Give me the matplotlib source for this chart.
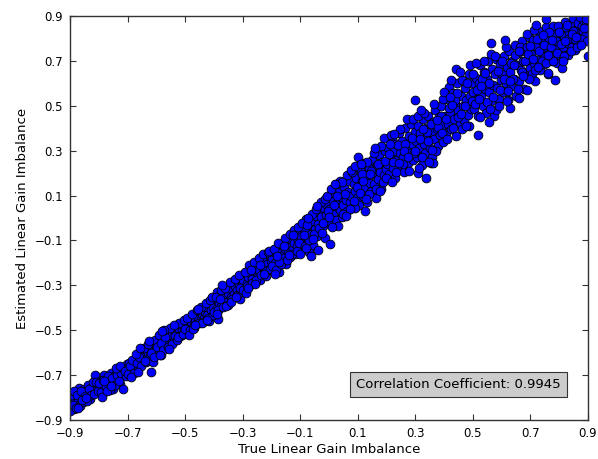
import matplotlib
matplotlib.use("Agg")
import matplotlib.pyplot as plt

# true vs estimated linear gain imbalance
true_gain = [
    -0.899, -0.897, -0.895, -0.892, -0.888, -0.885, -0.881, -0.877, -0.873, -0.869, -0.864, -0.860,
    -0.856, -0.851, -0.846, -0.842, -0.838, -0.833, -0.829, -0.824, -0.819, -0.813, -0.810, -0.805,
    -0.798, -0.794, -0.790, -0.786, -0.782, -0.778, -0.774, -0.770, -0.766, -0.762, -0.758, -0.754,
    -0.750, -0.746, -0.742, -0.738, -0.734, -0.730, -0.726, -0.722, -0.718, -0.714, -0.710, -0.706, -0.702,
    -0.698, -0.694, -0.690, -0.686, -0.682, -0.678, -0.674, -0.670, -0.666, -0.662, -0.658, -0.654,
    -0.650, -0.646, -0.642, -0.638, -0.634, -0.630, -0.626, -0.622, -0.618, -0.614, -0.610, -0.606, -0.602,
    -0.598, -0.594, -0.590, -0.586, -0.582, -0.578, -0.574, -0.570, -0.566, -0.562, -0.558, -0.554,
    -0.550, -0.546, -0.542, -0.538, -0.534, -0.530, -0.526, -0.522, -0.518, -0.514, -0.510, -0.506, -0.502,
    -0.498, -0.494, -0.490, -0.486, -0.482, -0.478, -0.474, -0.470, -0.466, -0.462, -0.458, -0.454,
    -0.450, -0.446, -0.442, -0.438, -0.434, -0.430, -0.426, -0.422, -0.418, -0.414, -0.410, -0.406, -0.402,
    -0.398, -0.394, -0.390, -0.386, -0.382, -0.378, -0.374, -0.370, -0.366, -0.362, -0.358, -0.354,
    -0.350, -0.346, -0.342, -0.338, -0.334, -0.330, -0.326, -0.322, -0.318, -0.314, -0.310, -0.306, -0.302,
    -0.298, -0.294, -0.290, -0.286, -0.282, -0.278, -0.274, -0.270, -0.266, -0.262, -0.258, -0.254,
    -0.250, -0.246, -0.242, -0.238, -0.234, -0.230, -0.226, -0.222, -0.218, -0.214, -0.210, -0.206, -0.202,
    -0.198, -0.194, -0.190, -0.186, -0.182, -0.178, -0.174, -0.170, -0.166, -0.162, -0.158, -0.154,
    -0.150, -0.146, -0.142, -0.138, -0.134, -0.130, -0.126, -0.122, -0.118, -0.114, -0.110, -0.106, -0.102,
    -0.098, -0.094, -0.090, -0.086, -0.082, -0.078, -0.074, -0.070, -0.066, -0.062, -0.058, -0.054,
    -0.050, -0.046, -0.042, -0.038, -0.034, -0.030, -0.026, -0.022, -0.018, -0.014, -0.010, -0.006, -0.002,
    0.002, 0.006, 0.010, 0.014, 0.018, 0.022, 0.026, 0.030, 0.034, 0.038, 0.042, 0.046,
    0.050, 0.054, 0.058, 0.062, 0.066, 0.070, 0.074, 0.078, 0.082, 0.086, 0.090, 0.094, 0.098,
    0.003, -0.039, -0.063,
    0.102, 0.106, 0.110, 0.114, 0.118, 0.122, 0.126, 0.130, 0.134, 0.138, 0.142, 0.146,
    0.150, 0.154, 0.158, 0.162, 0.166, 0.170, 0.174, 0.178, 0.182, 0.186, 0.190, 0.194, 0.198, 0.090,
    0.202, 0.206, 0.210, 0.214, 0.218, 0.222, 0.226, 0.230, 0.234, 0.238, 0.242, 0.246,
    0.250, 0.254, 0.258, 0.262, 0.266, 0.270, 0.274, 0.278, 0.282, 0.286, 0.290, 0.294, 0.298, 0.300,
    0.302, 0.306, 0.310, 0.314, 0.318, 0.322, 0.326, 0.330, 0.334, 0.338, 0.342, 0.346,
    0.350, 0.354, 0.358, 0.362, 0.366, 0.370, 0.374, 0.378, 0.382, 0.386, 0.390, 0.394, 0.398,
    0.310, 0.336, 0.354, 0.361,
    0.402, 0.406, 0.410, 0.414, 0.418, 0.422, 0.426, 0.430, 0.434, 0.438, 0.442, 0.446,
    0.450, 0.454, 0.458, 0.462, 0.466, 0.470, 0.474, 0.478, 0.482, 0.486, 0.490, 0.494, 0.498, 0.443,
    0.502, 0.506, 0.510, 0.514, 0.518, 0.522, 0.526, 0.530, 0.534, 0.538, 0.542, 0.546,
    0.550, 0.554, 0.558, 0.562, 0.566, 0.570, 0.574, 0.578, 0.582, 0.586, 0.590, 0.594, 0.598,
    0.558, 0.562, 0.517,
    0.602, 0.606, 0.610, 0.614, 0.618, 0.622, 0.626, 0.630, 0.634, 0.638, 0.642, 0.646,
    0.650, 0.654, 0.658, 0.662, 0.666, 0.670, 0.674, 0.678, 0.682, 0.686, 0.690, 0.694, 0.698,
    0.630, 0.660, 0.690, 0.687,
    0.702, 0.706, 0.710, 0.714, 0.718, 0.722, 0.726, 0.730, 0.734, 0.738, 0.742, 0.746,
    0.750, 0.754, 0.758, 0.762, 0.766, 0.770, 0.774, 0.778, 0.782, 0.786, 0.790, 0.794, 0.798,
    0.753, 0.760, 0.787,
    0.802, 0.806, 0.810, 0.814, 0.818, 0.822, 0.826, 0.830, 0.834, 0.838, 0.842, 0.846,
    0.850, 0.854, 0.858, 0.862, 0.866, 0.870, 0.874, 0.878, 0.882, 0.886, 0.890, 0.894, 0.898,
    0.810, 0.857, 0.899,
]

est_gain = [
    -0.810, -0.841, -0.781, -0.819, -0.794, -0.849, -0.807, -0.777, -0.815, -0.758, -0.827, -0.778,
    -0.798, -0.763, -0.809, -0.774, -0.745, -0.791, -0.806, -0.751, -0.765, -0.700, -0.777, -0.747,
    -0.762, -0.728, -0.781, -0.745, -0.700, -0.770, -0.735, -0.752, -0.712, -0.741, -0.690, -0.731,
    -0.760, -0.705, -0.722, -0.684, -0.717, -0.698, -0.738, -0.676, -0.702, -0.760, -0.665, -0.690, -0.650,
    -0.672, -0.648, -0.690, -0.661, -0.640, -0.678, -0.652, -0.630, -0.666, -0.612, -0.645, -0.625,
    -0.598, -0.640, -0.610, -0.585, -0.628, -0.600, -0.570, -0.615, -0.686, -0.580, -0.555, -0.598, -0.565,
    -0.548, -0.590, -0.530, -0.565, -0.610, -0.540, -0.512, -0.575, -0.548, -0.526, -0.560, -0.505,
    -0.538, -0.520, -0.495, -0.548, -0.512, -0.530, -0.488, -0.505, -0.525, -0.478, -0.500, -0.468, -0.490,
    -0.470, -0.505, -0.482, -0.455, -0.490, -0.462, -0.440, -0.478, -0.450, -0.425, -0.468, -0.440,
    -0.415, -0.452, -0.428, -0.400, -0.445, -0.418, -0.395, -0.430, -0.460, -0.385, -0.412, -0.372, -0.398,
    -0.360, -0.405, -0.330, -0.452, -0.378, -0.345, -0.392, -0.325, -0.365, -0.340, -0.310, -0.372,
    -0.335, -0.300, -0.352, -0.318, -0.290, -0.340, -0.305, -0.275, -0.322, -0.295, -0.362, -0.265, -0.300,
    -0.275, -0.310, -0.245, -0.290, -0.262, -0.228, -0.300, -0.250, -0.270, -0.215, -0.285, -0.240,
    -0.205, -0.262, -0.232, -0.275, -0.195, -0.245, -0.220, -0.180, -0.258, -0.205, -0.232, -0.168, -0.190,
    -0.180, -0.225, -0.150, -0.200, -0.132, -0.172, -0.240, -0.155, -0.190, -0.120, -0.165, -0.140,
    -0.205, -0.110, -0.150, -0.128, -0.175, -0.095, -0.138, -0.112, -0.160, -0.080, -0.125, -0.100, -0.065,
    -0.085, -0.140, -0.040, -0.110, -0.060, -0.005, -0.095, -0.150, -0.030, -0.070, -0.012, -0.118,
    -0.048, 0.010, -0.080, -0.025, 0.030, -0.058, 0.005, -0.035, 0.045, -0.090, 0.015, 0.060, -0.010,
    0.040, -0.020, 0.085, 0.020, 0.110, 0.055, -0.010, 0.075, 0.130, 0.035, 0.095, 0.005,
    0.060, 0.140, 0.080, 0.030, 0.115, 0.165, 0.070, 0.100, 0.045, 0.150, 0.120, 0.180, 0.090,
    -0.115, -0.142, -0.169,
    0.135, 0.060, 0.210, 0.165, 0.100, 0.245, 0.140, 0.185, 0.070, 0.225, 0.155, 0.120,
    0.260, 0.195, 0.150, 0.090, 0.235, 0.175, 0.280, 0.205, 0.130, 0.250, 0.190, 0.300, 0.220, 0.045,
    0.240, 0.310, 0.195, 0.275, 0.350, 0.225, 0.300, 0.180, 0.330, 0.260, 0.380, 0.290,
    0.215, 0.345, 0.270, 0.205, 0.400, 0.315, 0.245, 0.365, 0.290, 0.420, 0.330, 0.260, 0.385, 0.525,
    0.345, 0.270, 0.410, 0.310, 0.380, 0.235, 0.440, 0.330, 0.290, 0.400, 0.360, 0.455,
    0.310, 0.385, 0.270, 0.430, 0.350, 0.480, 0.395, 0.320, 0.450, 0.370, 0.500, 0.415, 0.340,
    0.200, 0.180, 0.245, 0.245,
    0.455, 0.380, 0.530, 0.420, 0.585, 0.470, 0.395, 0.555, 0.440, 0.510, 0.365, 0.600,
    0.480, 0.420, 0.545, 0.615, 0.500, 0.435, 0.580, 0.525, 0.460, 0.640, 0.545, 0.485, 0.600, 0.664,
    0.560, 0.485, 0.625, 0.530, 0.455, 0.600, 0.680, 0.545, 0.500, 0.650, 0.575, 0.470,
    0.620, 0.700, 0.560, 0.520, 0.665, 0.595, 0.455, 0.640, 0.710, 0.580, 0.530, 0.685, 0.615,
    0.430, 0.780, 0.370,
    0.640, 0.560, 0.720, 0.600, 0.675, 0.525, 0.745, 0.650, 0.590, 0.700, 0.620, 0.770,
    0.545, 0.680, 0.735, 0.610, 0.660, 0.790, 0.700, 0.575, 0.745, 0.640, 0.700, 0.805, 0.670,
    0.490, 0.535, 0.570, 0.820,
    0.730, 0.640, 0.795, 0.690, 0.610, 0.760, 0.705, 0.835, 0.660, 0.745, 0.790, 0.685,
    0.720, 0.850, 0.760, 0.640, 0.800, 0.735, 0.700, 0.855, 0.775, 0.720, 0.820, 0.690, 0.760,
    0.887, 0.645, 0.615,
    0.790, 0.735, 0.845, 0.760, 0.810, 0.875, 0.780, 0.725, 0.830, 0.860, 0.795, 0.760,
    0.890, 0.815, 0.840, 0.780, 0.870, 0.825, 0.800, 0.855, 0.835, 0.880, 0.810, 0.860, 0.845,
    0.670, 0.750, 0.720,
]

true_gain_b = [
    -0.900, -0.894, -0.890, -0.886, -0.879, -0.874, -0.866, -0.862, -0.853, -0.848, -0.840, -0.835, -0.826, -0.821, -0.816, -0.808, -0.803, -0.871, -0.858, -0.844,
    -0.799, -0.792, -0.784, -0.776, -0.769, -0.761, -0.753, -0.745, -0.737, -0.729, -0.721, -0.713, -0.705, -0.789, -0.773, -0.757, -0.741, -0.725, -0.709, -0.780,
    -0.699, -0.692, -0.684, -0.676, -0.668, -0.660, -0.652, -0.644, -0.636, -0.628, -0.620, -0.612, -0.604, -0.688, -0.672, -0.656, -0.640, -0.624, -0.608, -0.664,
    -0.599, -0.592, -0.584, -0.576, -0.568, -0.560, -0.552, -0.544, -0.536, -0.528, -0.520, -0.512, -0.504, -0.588, -0.572, -0.556, -0.540, -0.524, -0.508, -0.580,
    -0.499, -0.492, -0.484, -0.476, -0.468, -0.460, -0.452, -0.444, -0.436, -0.428, -0.420, -0.412, -0.404, -0.488, -0.472, -0.456, -0.440, -0.424, -0.408, -0.464,
    -0.399, -0.392, -0.384, -0.376, -0.368, -0.360, -0.352, -0.344, -0.336, -0.328, -0.320, -0.312, -0.304, -0.388, -0.372, -0.356, -0.340, -0.324, -0.308, -0.380,
    -0.299, -0.292, -0.284, -0.276, -0.268, -0.260, -0.252, -0.244, -0.236, -0.228, -0.220, -0.212, -0.204, -0.288, -0.272, -0.256, -0.240, -0.224, -0.208, -0.280,
    -0.199, -0.192, -0.184, -0.176, -0.168, -0.160, -0.152, -0.144, -0.136, -0.128, -0.120, -0.112, -0.104, -0.188, -0.172, -0.156, -0.140, -0.124, -0.108, -0.180,
    -0.099, -0.092, -0.084, -0.076, -0.068, -0.060, -0.052, -0.044, -0.036, -0.028, -0.020, -0.012, -0.004, -0.088, -0.072, -0.056, -0.040, -0.024, -0.008, -0.080,
    0.000, 0.008, 0.016, 0.024, 0.032, 0.040, 0.048, 0.056, 0.064, 0.072, 0.080, 0.088, 0.096, 0.012, 0.028, 0.044, 0.060, 0.076, 0.092, 0.020,
    0.100, 0.108, 0.116, 0.124, 0.132, 0.140, 0.148, 0.156, 0.164, 0.172, 0.180, 0.188, 0.196, 0.112, 0.128, 0.144, 0.160, 0.176, 0.192, 0.120,
    0.200, 0.208, 0.216, 0.224, 0.232, 0.240, 0.248, 0.256, 0.264, 0.272, 0.280, 0.288, 0.296, 0.212, 0.228, 0.244, 0.260, 0.276, 0.292, 0.220,
    0.300, 0.308, 0.316, 0.324, 0.332, 0.340, 0.348, 0.356, 0.364, 0.372, 0.380, 0.388, 0.396, 0.312, 0.328, 0.344, 0.360, 0.376, 0.392, 0.320,
    0.400, 0.408, 0.416, 0.424, 0.432, 0.440, 0.448, 0.456, 0.464, 0.472, 0.480, 0.488, 0.496, 0.412, 0.428, 0.444, 0.460, 0.476, 0.492, 0.420,
    0.500, 0.508, 0.516, 0.524, 0.532, 0.540, 0.548, 0.556, 0.564, 0.572, 0.580, 0.588, 0.596, 0.512, 0.528, 0.544, 0.560, 0.576, 0.592, 0.520,
    0.600, 0.608, 0.616, 0.624, 0.632, 0.640, 0.648, 0.656, 0.664, 0.672, 0.680, 0.688, 0.696, 0.612, 0.628, 0.644, 0.660, 0.676, 0.692, 0.620,
    0.700, 0.708, 0.716, 0.724, 0.732, 0.740, 0.748, 0.756, 0.764, 0.772, 0.780, 0.788, 0.796, 0.712, 0.728, 0.744, 0.760, 0.776, 0.792, 0.720,
    0.800, 0.808, 0.816, 0.824, 0.832, 0.840, 0.848, 0.856, 0.864, 0.872, 0.880, 0.888, 0.896, 0.812, 0.828, 0.844, 0.860, 0.876, 0.892, 0.820,
]

est_gain_b = [
    -0.860, -0.790, -0.835, -0.772, -0.846, -0.788, -0.838, -0.770, -0.822, -0.795, -0.815, -0.760, -0.790, -0.730, -0.785, -0.730, -0.772, -0.845, -0.810, -0.800,
    -0.735, -0.775, -0.720, -0.755, -0.705, -0.765, -0.715, -0.742, -0.700, -0.725, -0.690, -0.675, -0.705, -0.798, -0.770, -0.748, -0.668, -0.660, -0.680, -0.728,
    -0.695, -0.660, -0.632, -0.690, -0.645, -0.620, -0.660, -0.580, -0.640, -0.562, -0.600, -0.640, -0.545, -0.710, -0.605, -0.580, -0.635, -0.550, -0.620, -0.688,
    -0.575, -0.520, -0.555, -0.590, -0.530, -0.575, -0.490, -0.560, -0.525, -0.545, -0.470, -0.520, -0.455, -0.610, -0.498, -0.585, -0.478, -0.532, -0.515, -0.505,
    -0.495, -0.445, -0.500, -0.428, -0.488, -0.412, -0.470, -0.395, -0.465, -0.380, -0.445, -0.365, -0.430, -0.520, -0.495, -0.405, -0.470, -0.455, -0.350, -0.478,
    -0.420, -0.350, -0.410, -0.320, -0.395, -0.310, -0.388, -0.285, -0.360, -0.270, -0.345, -0.255, -0.330, -0.428, -0.298, -0.390, -0.372, -0.352, -0.312, -0.362,
    -0.320, -0.240, -0.305, -0.210, -0.290, -0.195, -0.278, -0.180, -0.255, -0.160, -0.238, -0.150, -0.225, -0.335, -0.230, -0.296, -0.210, -0.248, -0.145, -0.310,
    -0.215, -0.140, -0.230, -0.110, -0.205, -0.180, -0.090, -0.185, -0.070, -0.160, -0.055, -0.145, -0.110, -0.250, -0.195, -0.125, -0.165, -0.075, -0.040, -0.170,
    -0.160, -0.020, -0.125, -0.030, -0.100, 0.020, -0.070, 0.040, -0.045, 0.070, -0.020, 0.085, 0.030, -0.075, 0.000, -0.095, 0.055, -0.065, 0.100, -0.135,
    0.005, 0.130, 0.060, 0.150, -0.035, 0.165, 0.020, 0.105, 0.190, 0.040, 0.205, 0.075, 0.140, -0.040, 0.098, 0.160, 0.008, 0.215, 0.230, 0.150,
    0.270, 0.110, 0.195, 0.030, 0.250, 0.105, 0.210, 0.290, 0.130, 0.240, 0.320, 0.160, 0.255, 0.240, 0.085, 0.195, 0.310, 0.120, 0.355, 0.165,
    0.180, 0.285, 0.370, 0.250, 0.205, 0.325, 0.395, 0.240, 0.330, 0.440, 0.210, 0.355, 0.290, 0.330, 0.375, 0.245, 0.300, 0.270, 0.440, 0.160,
    0.300, 0.455, 0.350, 0.270, 0.470, 0.385, 0.250, 0.420, 0.510, 0.300, 0.405, 0.455, 0.530, 0.225, 0.395, 0.345, 0.305, 0.435, 0.380, 0.480,
    0.560, 0.440, 0.490, 0.615, 0.400, 0.525, 0.450, 0.650, 0.395, 0.500, 0.600, 0.410, 0.520, 0.350, 0.505, 0.555, 0.465, 0.410, 0.680, 0.540,
    0.640, 0.510, 0.570, 0.450, 0.620, 0.700, 0.515, 0.600, 0.730, 0.540, 0.480, 0.655, 0.570, 0.690, 0.590, 0.645, 0.485, 0.720, 0.500, 0.530,
    0.700, 0.620, 0.760, 0.565, 0.690, 0.620, 0.725, 0.575, 0.760, 0.650, 0.700, 0.760, 0.620, 0.795, 0.610, 0.680, 0.745, 0.635, 0.730, 0.520,
    0.765, 0.710, 0.660, 0.800, 0.745, 0.700, 0.770, 0.690, 0.830, 0.760, 0.700, 0.790, 0.855, 0.840, 0.675, 0.815, 0.725, 0.795, 0.735, 0.860,
    0.830, 0.775, 0.720, 0.850, 0.800, 0.745, 0.835, 0.800, 0.760, 0.895, 0.800, 0.845, 0.790, 0.700, 0.860, 0.820, 0.805, 0.770, 0.885, 0.790,
]

ticks = [-0.9, -0.7, -0.5, -0.3, -0.1, 0.1, 0.3, 0.5, 0.7, 0.9]
corr_text = "Correlation Coefficient: 0.9945"

plt.rcParams['font.family'] = ['DejaVu Sans']
plt.rcParams['axes.unicode_minus'] = True

fig = plt.figure(figsize=(5.98, 4.59), dpi=100)
ax = fig.add_axes([0.117, 0.085, 0.866, 0.880])

x_all = true_gain + true_gain_b
y_all = est_gain + est_gain_b
ax.scatter(x_all, y_all, s=40, c='#0000ff', edgecolors='black', linewidths=0.6, zorder=2)

ax.set_xlim(-0.9, 0.9)
ax.set_ylim(-0.9, 0.9)
ax.set_xticks(ticks)
ax.set_yticks(ticks)
ax.tick_params(direction='in', top=True, right=True, length=4, width=0.8,
               labelsize=8.5, pad=5, color='#333333')
for sp in ax.spines.values():
    sp.set_linewidth(1.0)
    sp.set_color('#333333')

ax.set_xlabel("True Linear Gain Imbalance", fontsize=9.5, labelpad=2)
ax.set_ylabel("Estimated Linear Gain Imbalance", fontsize=9.5, labelpad=4)

ax.text(0.75, 0.088, corr_text, transform=ax.transAxes, ha='center', va='center',
        fontsize=9.5, zorder=5,
        bbox=dict(boxstyle='square,pad=0.45', facecolor='#cccccc', edgecolor='#333333', linewidth=0.8))

fig.savefig("out.png", dpi=100)
